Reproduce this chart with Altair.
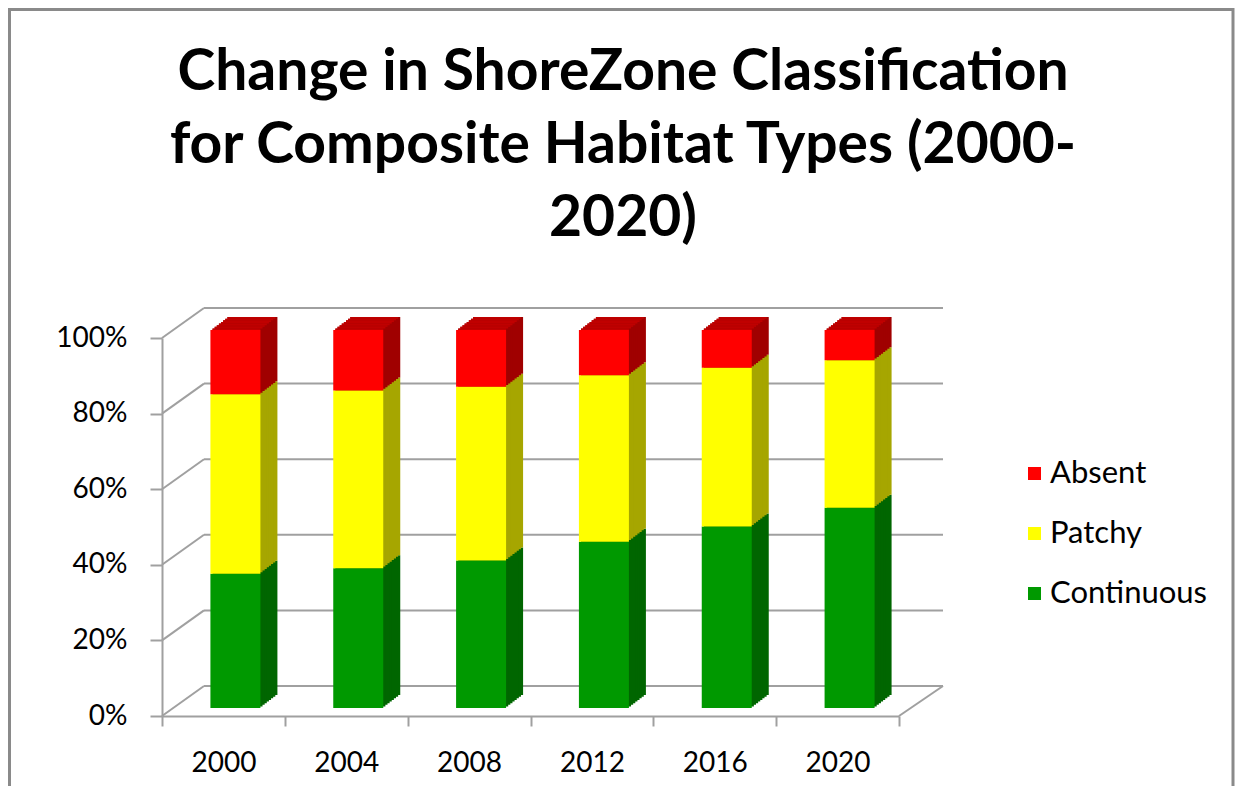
import altair as alt
import pandas as pd

# ---- data ----
years = ["2000", "2004", "2008", "2012", "2016", "2020"]
classes = ["Continuous", "Patchy", "Absent"]
continuous = [0.355, 0.37, 0.39, 0.44, 0.48, 0.53]
patchy = [0.475, 0.47, 0.46, 0.44, 0.42, 0.39]
absent = [0.17, 0.16, 0.15, 0.12, 0.10, 0.08]
y_ticks = [0.0, 0.2, 0.4, 0.6, 0.8, 1.0]
legend_order = ["Absent", "Patchy", "Continuous"]
title_lines = ["Change in ShoreZone Classification",
               "for Composite Habitat Types (2000-",
               "2020)"]

# ---- styles ----
front_colors = {"Continuous": "#009900", "Patchy": "#FFFF00", "Absent": "#FF0000"}
side_colors = {"Continuous": "#006600", "Patchy": "#A6A600", "Absent": "#A00000"}
TOP_COLOR = "#C00000"
GRID = "#A0A0A0"
FONT = "Lato"

W, H = 737, 378
BAR_W = 50
DX_BAR, DY_BAR = 12, -8        # bars sit a little behind the front plane
DEPTH_X, DEPTH_Y = 17, -13     # depth of each box
WALL_X, WALL_Y = 42, -30       # back wall offset
WALL_RIGHT = 781
N = 8

rows = []
series = {"Continuous": continuous, "Patchy": patchy, "Absent": absent}
for i, yr in enumerate(years):
    for j, c in enumerate(classes):
        rows.append({"Year": yr, "Class": c, "Value": series[c][i], "ord": j,
                     "side": side_colors[c]})
df = pd.DataFrame(rows)
ticks_df = pd.DataFrame({"t": y_ticks})
floor_df = pd.DataFrame({"t": [0.0]})

yscale = alt.Scale(domain=[0, 1], nice=False)
xscale = alt.Scale(paddingInner=0, paddingOuter=0)

x_axis = alt.Axis(title=None, labelAngle=0, tickBand="extent", tickSize=10,
                  tickWidth=2, tickColor=GRID, domainColor=GRID, domainWidth=2,
                  labelFont=FONT, labelFontSize=28, labelColor="#000000",
                  labelPadding=23, grid=False)
y_axis = alt.Axis(title=None, values=y_ticks, format=".0%", tickSize=12,
                  tickWidth=2, tickColor=GRID, domainColor=GRID, domainWidth=2,
                  labelFont=FONT, labelFontSize=28, labelColor="#000000",
                  labelPadding=23, grid=False)
X = alt.X("Year:N", scale=xscale, axis=x_axis)


def stacked(data):
    return alt.Chart(data).transform_stack(
        stack="Value", as_=["v0", "v1"], groupby=["Year"],
        sort=[alt.SortField("ord", order="ascending")])


# border around the whole chart
border = alt.Chart(floor_df).mark_rect(
    fillOpacity=0, stroke="#8A8A8A", strokeWidth=3
).encode(x=alt.value(-152.5), x2=alt.value(1071), y=alt.value(-328.5), y2=alt.value(600))

# title
title = alt.Chart(floor_df).mark_text(
    text=title_lines, font=FONT, fontSize=57, fontWeight="bold", color="#000000",
    lineHeight=73, align="center", baseline="alphabetic"
).encode(x=alt.value(461), y=alt.value(-248))

# back wall gridlines
grid = alt.Chart(ticks_df).mark_rule(color=GRID, strokeWidth=2, yOffset=WALL_Y).encode(
    y=alt.Y("t:Q", scale=yscale, axis=y_axis),
    x=alt.value(WALL_X), x2=alt.value(WALL_RIGHT))

# diagonal connectors from front axis to back wall
conn = alt.Chart(ticks_df).mark_rule(color=GRID, strokeWidth=2, y2Offset=WALL_Y).encode(
    y=alt.Y("t:Q", scale=yscale, axis=y_axis), y2="t:Q",
    x=alt.value(0), x2=alt.value(WALL_X))

# right edge of the floor
floor_edge = alt.Chart(floor_df).mark_rule(color=GRID, strokeWidth=2, y2Offset=WALL_Y).encode(
    y=alt.Y("t:Q", scale=yscale, axis=y_axis), y2="t:Q",
    x=alt.value(W), x2=alt.value(WALL_RIGHT))

layers = [border, title, grid, conn, floor_edge]

# side faces (staircase of shifted copies)
for k in range(N, 0, -1):
    ox = DX_BAR + DEPTH_X * k / N
    oy = DY_BAR + DEPTH_Y * k / N
    layers.append(
        stacked(df).mark_bar(width=BAR_W, xOffset=ox, yOffset=oy, y2Offset=oy).encode(
            x=X,
            y=alt.Y("v0:Q", scale=yscale, axis=y_axis), y2="v1:Q",
            fill=alt.Fill("side:N", scale=None)))

# top faces of the top segments
for k in range(N, 0, -1):
    ox = DX_BAR + DEPTH_X * k / N - DEPTH_X / (2 * N)
    oy1 = DY_BAR + DEPTH_Y * k / N
    oy2 = DY_BAR + DEPTH_Y * (k - 1) / N
    layers.append(
        stacked(df).transform_filter(alt.datum.Class == "Absent").mark_bar(
            width=BAR_W - DEPTH_X / N, xOffset=ox, yOffset=oy1, y2Offset=oy2,
            color=TOP_COLOR).encode(
            x=X,
            y=alt.Y("v1:Q", scale=yscale, axis=y_axis), y2="v1:Q"))

# front faces
front = stacked(df).mark_bar(width=BAR_W, xOffset=DX_BAR, yOffset=DY_BAR,
                             y2Offset=DY_BAR).encode(
    x=X,
    y=alt.Y("v0:Q", scale=yscale, axis=y_axis), y2="v1:Q",
    color=alt.Color("Class:N",
                    scale=alt.Scale(domain=legend_order,
                                    range=[front_colors[c] for c in legend_order]),
                    legend=alt.Legend(title=None, orient="none", legendX=857, legendY=120,
                                      symbolType="square", symbolSize=169,
                                      symbolStrokeWidth=0, labelFont=FONT,
                                      labelFontSize=31, labelColor="#000000",
                                      rowPadding=28, labelOffset=0, padding=0)))
layers.append(front)

chart = alt.layer(*layers).properties(
    width=W, height=H,
    background="white",
    autosize=alt.AutoSizeParams(type="none"),
    padding={"left": 154, "top": 330, "right": 336, "bottom": 70},
).configure_view(stroke=None)

chart.save("out.html", embed_options={"renderer": "svg", "actions": False})
